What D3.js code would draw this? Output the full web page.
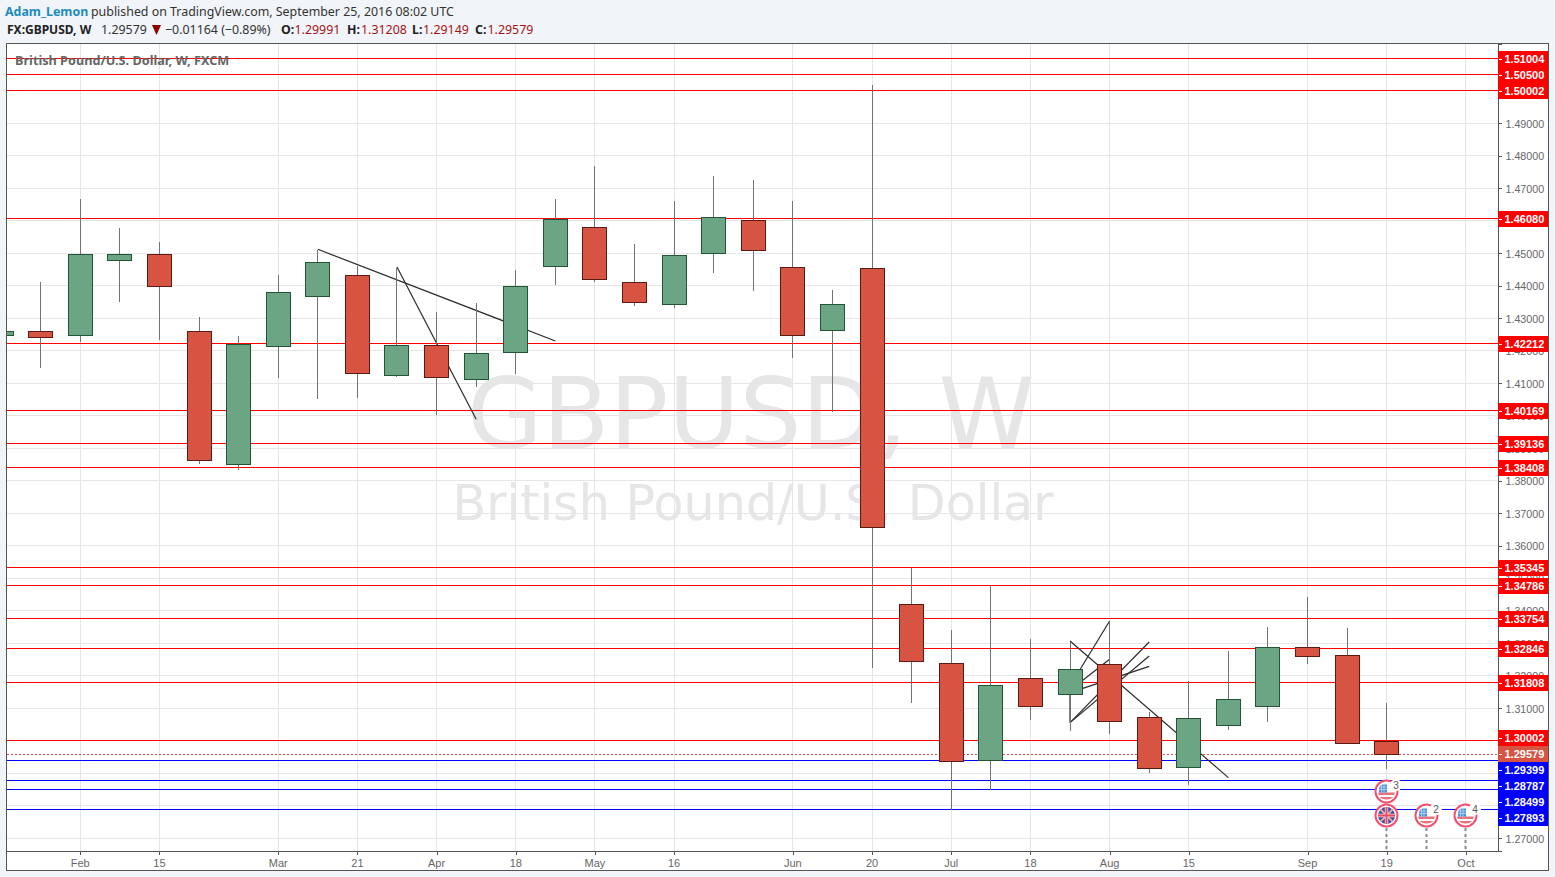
<!DOCTYPE html>
<html><head><meta charset="utf-8">
<style>
html,body{margin:0;padding:0;background:#f1f4f8;overflow:hidden}
svg{display:block}
text{font-family:"Liberation Sans",Arial,sans-serif}
.hdr text{font-family:"Noto Sans",sans-serif;font-size:12.4px}
.crisp line{shape-rendering:crispEdges}
</style>
<script src="https://cdnjs.cloudflare.com/ajax/libs/d3/7.8.5/d3.min.js"></script>
</head><body>
<svg id="c" width="1555" height="877"></svg>
<script>
// ---- data ----
const weeks = ["Jan 18","Jan 25","Feb 1","Feb 8","Feb 15","Feb 22","Feb 29","Mar 7","Mar 14","Mar 21","Mar 28","Apr 4","Apr 11","Apr 18","Apr 25","May 2","May 9","May 16","May 23","May 30","Jun 6","Jun 13","Jun 20","Jun 27","Jul 4","Jul 11","Jul 18","Jul 25","Aug 1","Aug 8","Aug 15","Aug 22","Aug 29","Sep 5","Sep 12","Sep 19"];
const opens  = [1.42498,1.42622,1.42498,1.44806,1.44991,1.42622,1.38529,1.4216,1.43698,1.44345,1.41268,1.42191,1.41145,1.41975,1.44622,1.45822,1.44129,1.43452,1.45022,1.46037,1.44591,1.42652,1.4456,1.34222,1.32406,1.29422,1.31945,1.31452,1.32375,1.30745,1.29206,1.30486,1.31083,1.32898,1.32652,1.29991];
const highs  = [1.42622,1.44138,1.46692,1.458,1.45369,1.43062,1.42477,1.44354,1.45123,1.44631,1.44578,1.43215,1.43492,1.44508,1.46692,1.47708,1.45308,1.46631,1.474,1.47277,1.46631,1.43892,1.502,1.3536,1.33431,1.34806,1.33154,1.33071,1.33686,1.30917,1.31862,1.32785,1.33523,1.34446,1.33492,1.31208];
const lows   = [1.42498,1.41502,1.42302,1.43532,1.42363,1.38548,1.38375,1.41194,1.40548,1.40579,1.41225,1.40055,1.40917,1.41317,1.44055,1.44148,1.43409,1.43348,1.44425,1.43871,1.41809,1.40148,1.32271,1.31194,1.27914,1.2853,1.30671,1.30332,1.3024,1.2904,1.28683,1.30354,1.30609,1.32406,1.29945,1.29149];
const closes = [1.42622,1.42437,1.44991,1.44991,1.44006,1.38652,1.42222,1.43822,1.44745,1.41329,1.42191,1.41206,1.41945,1.44006,1.46068,1.44222,1.43514,1.4496,1.46129,1.45114,1.42498,1.43452,1.36591,1.32468,1.29391,1.31729,1.31083,1.32222,1.30622,1.29175,1.30714,1.31298,1.32898,1.32622,1.29945,1.29579];

const yTicks = [1.27,1.28,1.29,1.30,1.31,1.32,1.33,1.34,1.35,1.36,1.37,1.38,1.39,1.40,1.41,1.42,1.43,1.44,1.45,1.46,1.47,1.48,1.49,1.50,1.51];
const xTickIndex  = [2,4,7,9,11,13,15,17,20,22,24,26,28,30,33,35,37];
const xTickLabels = ["Feb","15","Mar","21","Apr","18","May","16","Jun","20","Jul","18","Aug","15","Sep","19","Oct"];

const redLevels  = [1.51004,1.505,1.50002,1.4608,1.42212,1.40169,1.39136,1.38408,1.35345,1.34786,1.33754,1.32846,1.31808,1.30002];
const blueLevels = [1.29399,1.28787,1.28499,1.27893];
const lastPrice  = 1.29579;

// trend lines: [week, price, week, price]
const trendLines = [
 [8,1.45123,14,1.42302],
 [10,1.44578,12,1.39892],
 [27,1.33071,31,1.28868],
 [27,1.31686,28,1.33686],
 [27,1.31554,28,1.32508],
 [27,1.31483,29,1.32292],
 [27,1.3056,29,1.3304],
 [27,1.3056,29,1.32609],
 [27,1.31483,27,1.3056]
];
// calendar events: week, stack row, flag, count
const eventWeeks = [35,35,36,37];
const eventRows  = [1,0,0,0];
const eventFlags = ["US","GB","US","US"];
const eventCounts= ["3","","2","4"];

// ---- layout ----
const W=1555,H=877, L=7, R=1498, T=44, B=851, OUTR=1548, OUTB=870;
const x = d3.scaleLinear().domain([0,37]).range([1.08,1465.91]);
const y = d3.scaleLinear().domain([1.2660923,1.5144]).range([B,T]);
const fx = v=>Math.floor(x(v))+.5;
const fy = v=>Math.floor(y(v))+.5;
const ry = v=>Math.round(y(v))+.5;

const svg=d3.select("#c");
svg.append("rect").attr("width",W).attr("height",H).attr("fill","#f1f4f8");
svg.append("rect").attr("x",6.5).attr("y",43.5).attr("width",OUTR-6).attr("height",OUTB-43).attr("fill","#fff").attr("stroke","#555");

const clip=svg.append("defs");
clip.append("clipPath").attr("id","pane").append("rect").attr("x",L).attr("y",T).attr("width",R-L).attr("height",B-T);
const pane=svg.append("g").attr("clip-path","url(#pane)");

// watermark
const wm=pane.append("g").attr("fill","#e6e6e6").attr("text-anchor","middle");
wm.append("text").attr("x",751).attr("y",448).attr("font-size",97.5).style("font-family","'DejaVu Sans',sans-serif").text("GBPUSD, W");
wm.append("text").attr("x",753).attr("y",520).attr("font-size",49.2).style("font-family","'DejaVu Sans',sans-serif").text("British Pound/U.S. Dollar");

// grid
const grid=pane.append("g").attr("class","crisp").attr("stroke","#e6e6e6");
grid.selectAll(".h").data(yTicks).join("line").attr("x1",L).attr("x2",R).attr("y1",fy).attr("y2",fy);
grid.selectAll(".v").data(xTickIndex).join("line").attr("y1",T).attr("y2",B).attr("x1",fx).attr("x2",fx);

// levels
const lv=pane.append("g").attr("class","crisp");
lv.selectAll(".r").data(redLevels).join("line").attr("x1",L).attr("x2",R).attr("y1",fy).attr("y2",fy).attr("stroke","#ff0000");
lv.selectAll(".b").data(blueLevels).join("line").attr("x1",L).attr("x2",R).attr("y1",fy).attr("y2",fy).attr("stroke","#0000ff");
lv.append("line").attr("x1",L).attr("x2",R).attr("y1",fy(lastPrice)).attr("y2",fy(lastPrice)).attr("stroke","#d75442").attr("stroke-dasharray","2 2");

// trend lines
pane.append("g").selectAll("line").data(trendLines).join("line")
 .attr("x1",d=>x(d[0])).attr("y1",d=>y(d[1])).attr("x2",d=>x(d[2])).attr("y2",d=>y(d[3]))
 .attr("stroke","#2b2b2b").attr("stroke-width",1.2);

// candles
const cg=pane.append("g").attr("class","crisp");
const idx=d3.range(weeks.length);
cg.selectAll(".w").data(idx).join("line")
 .attr("x1",fx).attr("x2",fx).attr("y1",i=>ry(highs[i])).attr("y2",i=>ry(lows[i])).attr("stroke","#737375");
cg.selectAll("rect").data(idx).join("rect")
 .attr("x",i=>fx(i)-12).attr("width",24)
 .attr("y",i=>ry(Math.max(opens[i],closes[i])))
 .attr("height",i=>ry(Math.min(opens[i],closes[i]))-ry(Math.max(opens[i],closes[i])))
 .attr("fill",i=>closes[i]>=opens[i]?"#6ba583":"#d75442")
 .attr("stroke",i=>closes[i]>=opens[i]?"#225437":"#5b1a13")
 .style("shape-rendering","crispEdges");

// events
const evDefs=svg.select("defs");
evDefs.append("clipPath").attr("id","flagclip").append("circle").attr("r",8.5);
const ev=svg.append("g");
const evY=r=>815.5-24*r;
eventWeeks.forEach((w,k)=>{
  if(eventRows[k]===0){
    ev.append("line").attr("x1",fx(w)).attr("x2",fx(w)).attr("y1",828).attr("y2",B)
      .attr("stroke","#8a8a8a").attr("stroke-width",2).attr("stroke-dasharray","3 3");
  }
});
eventWeeks.forEach((w,k)=>{
  const g=ev.append("g").attr("transform",`translate(${fx(w)},${evY(eventRows[k])})`);
  g.append("circle").attr("r",11).attr("fill","#fff").attr("stroke","#f2506e").attr("stroke-width",2);
  const f=g.append("g").attr("clip-path","url(#flagclip)");
  if(eventFlags[k]==="US"){
    f.append("rect").attr("x",-9).attr("y",-9).attr("width",18).attr("height",18).attr("fill","#fff");
    f.append("rect").attr("x",-9).attr("y",1).attr("width",18).attr("height",2.5).attr("fill","#e8717c");
    f.append("rect").attr("x",-9).attr("y",5.5).attr("width",18).attr("height",2.5).attr("fill","#e8717c");
    f.append("rect").attr("x",-7.5).attr("y",-7).attr("width",8).attr("height",8).attr("fill","#4a90d9");
    [-5,-2.5].forEach(o=>{
      f.append("line").attr("x1",o).attr("x2",o).attr("y1",-7).attr("y2",1).attr("stroke","#cfe2f5").attr("stroke-width",.7);
    });
    [-4.5,-2].forEach(o=>{
      f.append("line").attr("y1",o).attr("y2",o).attr("x1",-7.5).attr("x2",.5).attr("stroke","#cfe2f5").attr("stroke-width",.7);
    });
  } else {
    f.append("rect").attr("x",-9).attr("y",-9).attr("width",18).attr("height",18).attr("fill","#47509a");
    f.append("path").attr("d","M-9,-9L9,9M9,-9L-9,9").attr("stroke","#e9b3bd").attr("stroke-width",1.6);
    f.append("path").attr("d","M0,-9V9M-9,0H9").attr("stroke","#f4d6da").attr("stroke-width",3.4);
    f.append("path").attr("d","M0,-9V9M-9,0H9").attr("stroke","#e8485f").attr("stroke-width",1.8);
  }
  if(eventCounts[k]){
    g.append("circle").attr("cx",9.5).attr("cy",-6.5).attr("r",6).attr("fill","#fff");
    g.append("text").attr("x",9.5).attr("y",-3).attr("text-anchor","middle").attr("font-size",10).attr("fill","#555").text(eventCounts[k]);
  }
});

// price labels with stacking around the last price
const labels=[...redLevels.map(v=>({v,c:"#ff0000"})),...blueLevels.map(v=>({v,c:"#0000ff"})),{v:lastPrice,c:"#d75442",last:true}]
  .sort((a,b)=>b.v-a.v);
labels.forEach(l=>l.p=l.last?Math.floor(y(l.v)):y(l.v)+.5);
const li=labels.findIndex(l=>l.last);
for(let i=li+1;i<labels.length;i++) if(labels[i].p<labels[i-1].p+16) labels[i].p=labels[i-1].p+16;
for(let i=li-1;i>=0;i--) if(labels[i].p>labels[i+1].p-16) labels[i].p=labels[i+1].p-16;

// axes (tick texts entirely behind a price label are not drawn)
const shownTicks=yTicks.filter(t=>!labels.some(l=>Math.abs(l.p-y(t))<3.5));
const axY=d3.axisRight(y).tickValues(shownTicks).tickSize(4).tickPadding(3).tickFormat(d3.format(".5f"));
const gy=svg.append("g").attr("class","crisp").attr("transform",`translate(${R},0)`).call(axY);
gy.selectAll("text").attr("font-size",10.7).attr("fill","#666").style("font-family","'Liberation Sans',Arial,sans-serif").attr("x",7.5);
gy.selectAll("text").attr("dy",null).attr("y",1).attr("dominant-baseline","middle");
gy.selectAll("line").attr("stroke","#555");
gy.select(".domain").attr("stroke","#555").style("shape-rendering","crispEdges");

const axX=d3.axisBottom(x).tickValues(xTickIndex).tickSize(4).tickPadding(4).tickFormat((d,i)=>xTickLabels[i]);
const gx=svg.append("g").attr("class","crisp").attr("transform",`translate(0,${B})`).call(axX);
gx.selectAll("text").attr("font-size",11).attr("fill","#666").attr("x",-.5).style("font-family","'Liberation Sans',Arial,sans-serif");
gx.selectAll("line").attr("stroke","#555");
gx.select(".domain").remove();
svg.append("line").attr("x1",L).attr("x2",R).attr("y1",B+.5).attr("y2",B+.5).attr("stroke","#555").style("shape-rendering","crispEdges");
svg.append("line").attr("x1",R+.5).attr("x2",R+.5).attr("y1",T).attr("y2",B).attr("stroke","#555").style("shape-rendering","crispEdges");

const lg=svg.append("g");
labels.forEach(l=>{
  const cy=Math.round(l.p);
  lg.append("rect").attr("x",R).attr("y",cy-8).attr("width",OUTR-R).attr("height",16).attr("fill",l.c);
  lg.append("line").attr("x1",R+1).attr("x2",R+4).attr("y1",cy+.5).attr("y2",cy+.5).attr("stroke","#fff").style("shape-rendering","crispEdges");
  lg.append("text").attr("x",R+6.5).attr("y",cy+4).attr("font-size",11).attr("font-weight","bold").attr("fill","#fff").text(d3.format(".5f")(l.v));
});

// header
const hdr=svg.append("g").attr("class","hdr");
const t=(xp,yp,s,c,b)=>hdr.append("text").attr("x",xp).attr("y",yp).attr("fill",c).attr("font-weight",b?"bold":"normal").text(s);
t(5,16,"Adam_Lemon","#1d8bbf",true);
t(91,16,"published on TradingView.com, September 25, 2016 08:02 UTC","#333",false);
t(7,34,"FX:GBPUSD, W","#222",true).style("font-size","12px");
t(101,34,"1.29579","#333",false);
hdr.append("path").attr("d","M152,25H161L156.5,35Z").attr("fill","#8b0000");
t(165,34,"−0.01164 (−0.89%)","#333",false);
t(281,34,"O:","#222",true); t(294.5,34,"1.29991","#a31515",false);
t(347,34,"H:","#222",true); t(361,34,"1.31208","#a31515",false);
t(412,34,"L:","#222",true); t(423,34,"1.29149","#a31515",false);
t(475,34,"C:","#222",true); t(487.5,34,"1.29579","#a31515",false);
t(15,65,"British Pound/U.S. Dollar, W, FXCM","#666",true).style("font-size","12.7px");
</script>
</body></html>
